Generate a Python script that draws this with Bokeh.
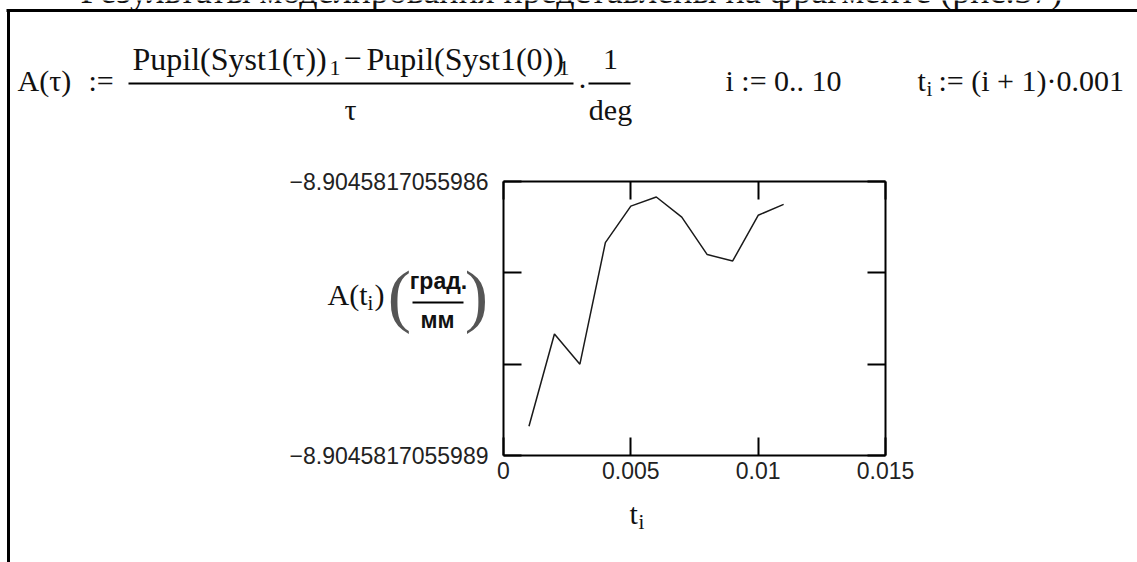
from bokeh.plotting import figure
from bokeh.models import Label, FixedTicker, LinearAxis, Range1d, BoxAnnotation
from bokeh.embed import file_html
from bokeh.resources import INLINE

# ---------------- data ----------------
t_values = [0.001, 0.002, 0.003, 0.004, 0.005, 0.006, 0.007, 0.008, 0.009, 0.010, 0.011]
# A(t_i) expressed as offset (in units of 1e-13) above -8.9045817055989
A_offset_e13 = [0.32, 1.33, 1.00, 2.33, 2.73, 2.83, 2.61, 2.20, 2.13, 2.63, 2.75]
x_ticks = [0, 0.005, 0.01, 0.015]
x_tick_labels = ["0", "0.005", "0.01", "0.015"]
y_ticks = [0, 1, 2, 3]
y_tick_labels = ["\u22128.9045817055989", "", "", "\u22128.9045817055986"]

W, H = 1137, 562
BL, BR, BT, BB = 503, 885, 181, 455   # chart box edges in page pixels
XMIN, XMAX, YMIN, YMAX = 0, 0.015, 0, 3
SERIF = "Liberation Serif"
SANS = "Liberation Sans"

# page-pixel -> data position helpers (the whole page is the plotting frame)
def dx(px):
    return XMIN + (px - BL) * (XMAX - XMIN) / (BR - BL)

def dy(py):
    return YMIN + (BB - py) * (YMAX - YMIN) / (BB - BT)

p = figure(width=W, height=H, output_backend="svg", toolbar_location=None,
           x_axis_type=None, y_axis_type=None,
           x_range=Range1d(dx(0), dx(W)), y_range=Range1d(dy(H), dy(0)),
           min_border=0)
p.background_fill_color = "white"
p.border_fill_color = "white"
p.outline_line_color = None

p.line(t_values, A_offset_e13, line_color="#1a1a1a", line_width=1.5)

def make_axis(loc, fixed, bounds, ticks, labels=None, standoff=6):
    ax = LinearAxis(fixed_location=fixed, bounds=bounds, ticker=FixedTicker(ticks=ticks))
    ax.axis_line_color = "black"
    ax.axis_line_width = 2
    ax.major_tick_in = 18
    ax.major_tick_out = 0
    ax.major_tick_line_width = 2
    ax.major_tick_line_color = "black"
    ax.minor_tick_line_color = None
    ax.major_label_text_font = SANS
    ax.major_label_text_font_size = "23px"
    ax.major_label_text_color = "#222222"
    ax.major_label_standoff = standoff
    if labels is None:
        ax.major_label_text_alpha = 0
    else:
        ax.major_label_overrides = {k: v for k, v in zip(ticks, labels)}
    p.add_layout(ax, loc)
    return ax

make_axis("below", YMIN, (XMIN, XMAX), x_ticks, x_tick_labels, standoff=6)
make_axis("above", YMAX, (XMIN, XMAX), x_ticks)
make_axis("left", XMIN, (YMIN, YMAX), y_ticks, y_tick_labels, standoff=15)
make_axis("right", XMAX, (YMIN, YMAX), y_ticks)

def txt(x, y, s, size=30, font=SERIF, align="left", style="normal", color="#111111"):
    # y is the wanted baseline (page pixels); compensate label baseline placement
    p.add_layout(Label(x=dx(x), y=dy(y - 0.4 * size), text=s,
                       text_font=font, text_font_size=f"{size}px", text_align=align,
                       text_baseline="alphabetic", text_font_style=style, text_color=color))

def box(x0, x1, y0, y1):
    p.add_layout(BoxAnnotation(left=dx(x0), right=dx(x1), top=dy(y0), bottom=dy(y1),
                               fill_color="black", fill_alpha=1, line_color=None))

# page borders and cut-off heading
txt(571, 5, "Результаты моделирования представлены на фрагменте (рис.37)", size=36, align="center")
box(6, W + 2, 8.5, 11.5)
box(6.5, 9.5, 9, H + 2)

# formula line
txt(17, 92, "A(τ)")
txt(88, 92, ":=")
txt(132, 71, "Pupil(Syst1(τ))", size=32)
txt(329, 76, "1", size=22)
txt(352, 71, "−", size=32, align="center")
txt(366, 71, "Pupil(Syst1(0))", size=32)
txt(558, 76, "1", size=22)
box(128, 573, 82, 84)
txt(350, 121, "τ", align="center")
txt(582, 97, "·", align="center")
txt(610, 71, "1", align="center")
box(588, 630, 82, 84)
txt(610, 121, "deg", align="center")
txt(725, 92, "i := 0.. 10")
txt(917, 92, "t")
txt(926, 97, "i", size=21)
txt(938, 92, ":= (i + 1)·0.001")

# y-axis label
txt(327, 306, "A(t")
txt(367, 311, "i", size=21)
txt(374, 306, ")")
txt(399, 323, "(", size=70, align="center", color="#555555")
txt(476, 323, ")", size=70, align="center", color="#555555")
txt(438, 290, "град.", size=23, font=SANS, align="center", style="bold")
box(412, 463, 301, 303)
txt(437, 329, "мм", size=23, font=SANS, align="center", style="bold")

# x-axis label
txt(629, 525, "t")
txt(638, 530, "i", size=21)

open("out.html", "w").write(file_html(p, INLINE))
